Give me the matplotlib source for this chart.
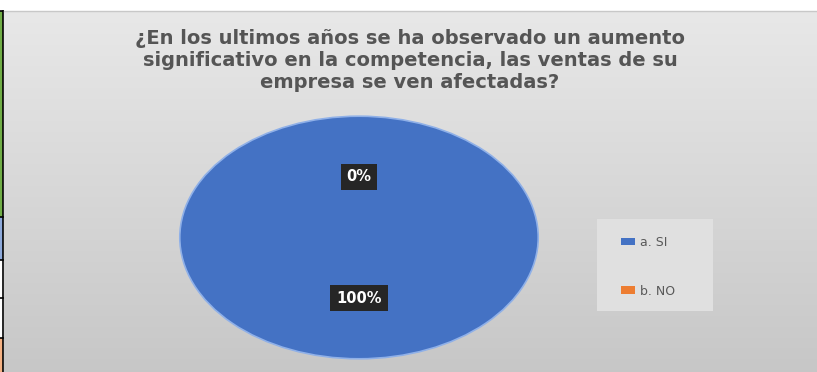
import matplotlib
matplotlib.use("Agg")
import matplotlib.pyplot as plt
import numpy as np
from matplotlib.patches import Rectangle, Circle

# datos de la encuesta
labels = ["a. SI", "b. NO"]
values = [100, 0]
colors = ["#4472c4", "#ed7d31"]
title = ("¿En los ultimos años se ha observado un aumento\n"
         "significativo en la competencia, las ventas de su\n"
         "empresa se ven afectadas?")

W, H = 817, 372
fig = plt.figure(figsize=(W / 100, H / 100), dpi=100)
fig.patch.set_facecolor("white")

# fondo degradado gris del grafico
bg = fig.add_axes([4 / W, 0, 1 - 4 / W, (H - 11) / H])
grad = np.linspace(0.91, 0.78, 256).reshape(-1, 1)
bg.imshow(np.dstack([grad, grad, grad]), aspect="auto", extent=[0, 1, 0, 1])
bg.set_axis_off()

# celdas de la hoja de calculo a la izquierda + caja de la leyenda
strip = fig.add_axes([0, 0, 1, 1], facecolor="none")
strip.set_xlim(0, W)
strip.set_ylim(H, 0)
strip.set_axis_off()
cells = [(11, 217, "#70ad47"), (217, 260, "#8eaadb"), (260, 298, "white"),
         (298, 338, "white"), (338, 372, "#f4b183")]
for y0, y1, c in cells:
    strip.add_patch(Rectangle((0, y0), 3, y1 - y0, fc=c, ec="none"))
    strip.plot([0, 3.5], [y0, y0], color="black", lw=1.2)
strip.plot([3.5, 3.5], [11, H], color="black", lw=1.2)
strip.plot([4, W], [11, 11], color="#c8c8c8", lw=1)
strip.add_patch(Rectangle((597, 219), 116, 92, fc="#e0e0e0", ec="none"))

fig.text(410 / W, 1 - 60 / H, title, ha="center", va="center",
         fontsize=14, fontweight="bold", color="#555555",
         family="DejaVu Sans", linespacing=1.2)

# pastel (eliptico como en el original)
ax = fig.add_axes([178 / W, 12 / H, 362 / W, 245 / H])
wedges, texts, autotexts = ax.pie(
    values, colors=colors, startangle=90, counterclock=False,
    autopct="%1.0f%%", pctdistance=0.5,
    wedgeprops=dict(linewidth=0),
    textprops=dict(color="white", fontsize=10.5, fontweight="bold", family="DejaVu Sans"))
for t in autotexts:
    t.set_bbox(dict(boxstyle="square,pad=0.4", fc="#262626", ec="none"))
ax.add_patch(Circle((0, 0), 1, fill=False, ec="#8fb0e8", lw=1.2))
ax.set_aspect("auto")
ax.set_xlim(-1.01, 1.01)
ax.set_ylim(-1.01, 1.01)

leg = fig.legend(wedges, labels, loc="upper left",
                 bbox_to_anchor=(621 / W, 1 - 236 / H),
                 frameon=False, fontsize=9,
                 labelcolor="#595959", handlelength=1.1, handleheight=0.55,
                 labelspacing=2.85, borderpad=0, handletextpad=0.4,
                 borderaxespad=0)
for h in leg.legend_handles:
    h.set_edgecolor("none")

fig.savefig("out.png", dpi=100)
